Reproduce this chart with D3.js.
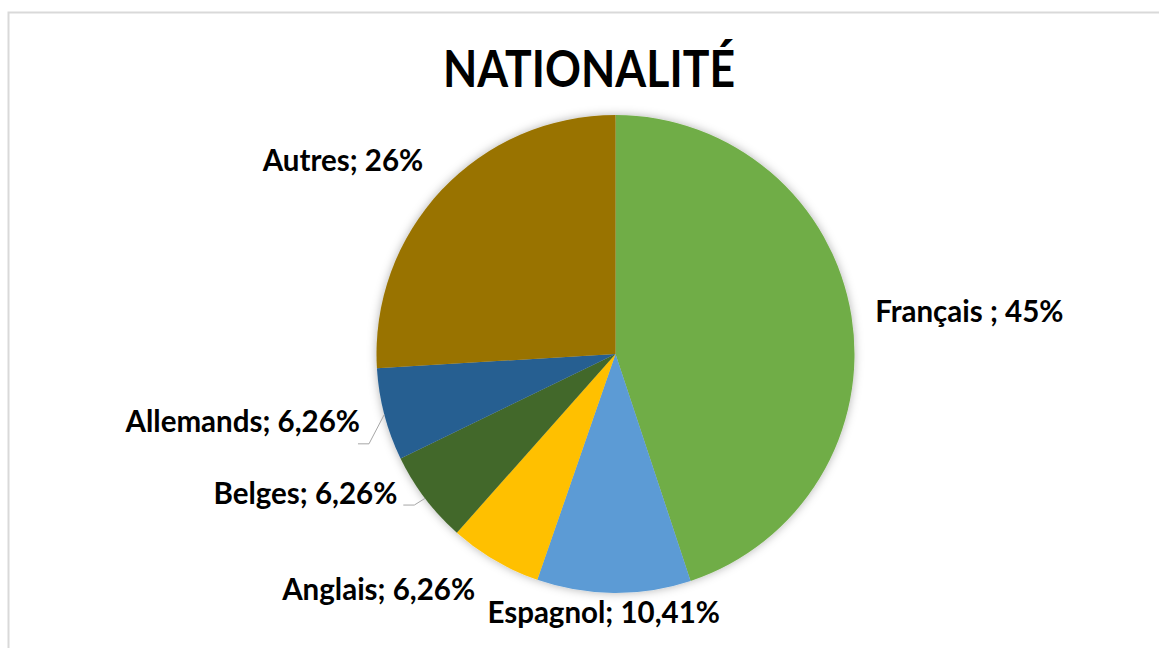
<!DOCTYPE html>
<html>
<head>
<meta charset="utf-8">
<script src="https://cdn.jsdelivr.net/npm/d3@7"></script>
<style>
  body { margin: 0; background: #fff; }
  text { font-family: Lato, "Open Sans", sans-serif; font-weight: bold; fill: #000; }
</style>
</head>
<body>
<div id="graf"></div>
<script>
// data
const categories = ['Français', 'Espagnol', 'Anglais', 'Belges', 'Allemands', 'Autres']
const valeurs = [45, 10.41, 6.26, 6.26, 6.26, 26]
const etiquettes = ['Français ; 45%', 'Espagnol; 10,41%', 'Anglais; 6,26%', 'Belges; 6,26%', 'Allemands; 6,26%', 'Autres; 26%']
const couleurs = ['#70AD47', '#5B9BD5', '#FFC000', '#43682B', '#255E91', '#997300']

// label layout (nudges from the arc point, anchor, optional leader line)
const placement = [
  { dx: 3, dy: 9, anchor: 'start' },
  { dx: -10, dy: 9, anchor: 'middle' },
  { dx: -9, dy: 22, anchor: 'end' },
  { dx: -11, dy: -7, anchor: 'end', ligne: { gap: 6, dy: 1 } },
  { dx: -4, dy: 12, anchor: 'end', ligne: { gap: -2, dy: 12 } },
  { dx: -3, dy: -5, anchor: 'end' },
]

const anchoTotal = 1159
const altoTotal = 648
const cx = 615.5
const cy = 354
const radio = 239
const radioLabel = 260

const svg = d3.select('#graf')
  .append('svg')
  .attr('width', anchoTotal)
  .attr('height', altoTotal)

const defs = svg.append('defs')
const filtro = defs.append('filter')
  .attr('id', 'sombra')
  .attr('x', '-20%').attr('y', '-20%')
  .attr('width', '140%').attr('height', '140%')
filtro.append('feDropShadow')
  .attr('dx', 0).attr('dy', 0)
  .attr('stdDeviation', 5)
  .attr('flood-color', '#000')
  .attr('flood-opacity', 0.3)

// chart border
svg.append('rect')
  .attr('x', 8.5).attr('y', 12.5)
  .attr('width', anchoTotal + 20).attr('height', altoTotal + 20)
  .attr('fill', 'none')
  .attr('stroke', '#d9d9d9')
  .attr('stroke-width', 2)

svg.append('text')
  .attr('x', 589)
  .attr('y', 87)
  .attr('text-anchor', 'middle')
  .attr('font-size', 51)
  .attr('textLength', 292)
  .attr('lengthAdjust', 'spacingAndGlyphs')
  .text('NATIONALITÉ')

const datos = categories.map((c, i) => ({ cat: c, val: valeurs[i], label: etiquettes[i], color: couleurs[i], pos: placement[i] }))

const pie = d3.pie().sort(null).value(d => d.val)
const arcs = pie(datos)

const arc = d3.arc().innerRadius(0).outerRadius(radio)
const arcLabel = d3.arc().innerRadius(radioLabel).outerRadius(radioLabel)
const arcBord = d3.arc().innerRadius(radio).outerRadius(radio)

const g = svg.append('g')
  .attr('transform', `translate(${cx}, ${cy})`)

g.append('g')
  .attr('filter', 'url(#sombra)')
  .selectAll('path')
  .data(arcs)
  .enter()
  .append('path')
  .attr('d', arc)
  .attr('fill', d => d.data.color)

g.selectAll('.label')
  .data(arcs)
  .enter()
  .append('text')
  .attr('class', 'label')
  .attr('x', d => arcLabel.centroid(d)[0] + d.data.pos.dx)
  .attr('y', d => arcLabel.centroid(d)[1] + d.data.pos.dy)
  .attr('text-anchor', d => d.data.pos.anchor)
  .attr('font-size', 29.5)
  .text(d => d.data.label)

// leader lines
g.selectAll('.lider')
  .data(arcs.filter(d => d.data.pos.ligne))
  .enter()
  .append('polyline')
  .attr('class', 'lider')
  .attr('fill', 'none')
  .attr('stroke', '#a6a6a6')
  .attr('stroke-width', 1)
  .attr('points', d => {
    const p = d.data.pos
    const ax = arcLabel.centroid(d)[0] + p.dx + p.ligne.gap
    const ay = arcLabel.centroid(d)[1] + p.dy + p.ligne.dy
    const b = arcBord.centroid(d)
    return [[ax, ay], [ax + 11, ay], b].map(q => q.join(',')).join(' ')
  })
</script>
</body>
</html>
